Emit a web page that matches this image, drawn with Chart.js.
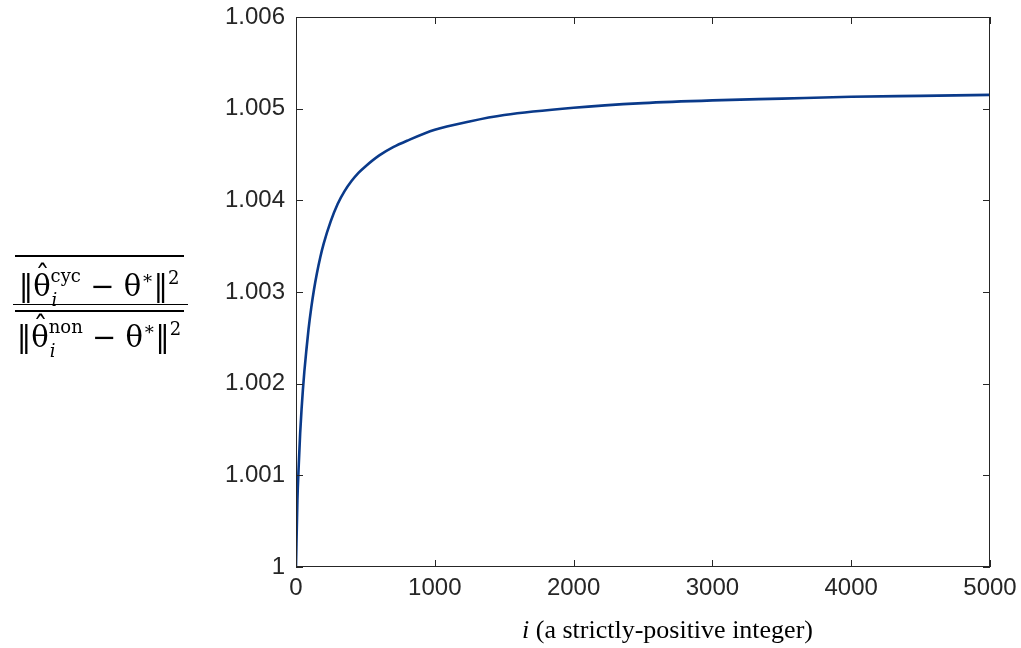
<!DOCTYPE html>
<html>
<head>
<meta charset="utf-8">
<script src="https://cdn.jsdelivr.net/npm/chart.js@4/dist/chart.umd.min.js"></script>
<style>
    body { margin: 0; background: #fff; }
    #wrap { position: relative; width: 1021px; height: 648px; }
    canvas { position: absolute; left: 0; top: 0; }
    .rule { position: absolute; height: 1.5px; background: #000; }
    .fr { position: absolute; left: 13px; width: 172px; text-align: center; white-space: nowrap;
          font-family: "DejaVu Serif", serif; font-size: 29px; line-height: 30px; color: #000; }
    .th { position: relative; }
    .th .h { position: absolute; left: 2px; top: -10px; line-height: normal; }
    .ss { position: relative; font-size: 18px; line-height: normal; }
    .ss .sup { position: relative; top: -14px; }
    .ss .sub { position: absolute; left: 1px; top: 10px; font-style: italic; }
    .sp { position: relative; top: -12px; font-size: 18px; line-height: normal; }
    #xlab { position: absolute; left: 522px; top: 615px; white-space: nowrap;
            font-family: "Liberation Serif", serif; font-size: 26px; line-height: 30px; color: #000; }
    #xlab i { font-style: italic; }
</style>
</head>
<body>
<div id="wrap">
    <canvas id="ratioChart" width="1021" height="648"></canvas>
    <div class="rule" style="left:15px; top:255px; width:169px;"></div>
    <div class="fr" style="top:271px;">‖<span class="th">θ<span class="h">ˆ</span></span><span class="ss"><span class="sup">cyc</span><span class="sub">i</span></span> − θ<span class="sp">∗</span>‖<span class="sp">2</span></div>
    <div class="rule" style="left:13px; top:303.5px; width:175px;"></div>
    <div class="rule" style="left:15px; top:310px; width:169px;"></div>
    <div class="fr" style="top:322px;">‖<span class="th">θ<span class="h">ˆ</span></span><span class="ss"><span class="sup">non</span><span class="sub">i</span></span> − θ<span class="sp">∗</span>‖<span class="sp">2</span></div>
    <div id="xlab"><i>i</i> (a strictly-positive integer)</div>
</div>
<script>
// values
const iValues = [0, 10, 20, 30, 40, 50, 60, 75, 90, 110, 130, 150, 175, 200, 250, 300, 350,
    400, 450, 500, 600, 700, 800, 1000, 1250, 1500, 2000, 2500, 3000, 3500, 4000, 4500, 5000];
const ratioValues = [1.00000, 1.00072, 1.00112, 1.00146, 1.00172, 1.00194, 1.00213, 1.00237,
    1.00259, 1.00283, 1.00303, 1.00320, 1.00338, 1.00353, 1.00377, 1.00396, 1.00410,
    1.00421, 1.00430, 1.00437, 1.00449, 1.00458, 1.00465, 1.00477, 1.00486, 1.00493,
    1.00501, 1.00506, 1.00509, 1.00511, 1.00513, 1.00514, 1.00515];
const xTicks = [0, 1000, 2000, 3000, 4000, 5000];
const yTicks = [1, 1.001, 1.002, 1.003, 1.004, 1.005, 1.006];

const axisColor = '#262626';
const tickFont = { family: '"Liberation Sans", Arial, sans-serif', size: 24 };

// box around the plot with inward ticks on all four sides (matlab style)
const boxPlugin = {
    id: 'box',
    afterDraw(chart) {
        const { ctx, chartArea } = chart;
        const { left, right, top, bottom } = chartArea;
        const xs = chart.scales.x, ys = chart.scales.y;
        const len = 7;
        ctx.save();
        ctx.strokeStyle = axisColor;
        ctx.lineWidth = 1;
        ctx.strokeRect(left + 0.5, top + 0.5, right - left - 1, bottom - top - 1);
        ctx.beginPath();
        xTicks.forEach(v => {
            const x = Math.round(xs.getPixelForValue(v)) + 0.5;
            ctx.moveTo(x, bottom); ctx.lineTo(x, bottom - len);
            ctx.moveTo(x, top); ctx.lineTo(x, top + len);
        });
        yTicks.forEach(v => {
            const y = Math.round(ys.getPixelForValue(v)) + 0.5;
            ctx.moveTo(left, y); ctx.lineTo(left + len, y);
            ctx.moveTo(right, y); ctx.lineTo(right - len, y);
        });
        ctx.stroke();
        ctx.restore();
    }
};

const points = iValues.map((x, k) => ({ x: x, y: ratioValues[k] }));

new Chart(document.getElementById('ratioChart'), {
    type: 'scatter',
    data: {
        datasets: [{
            data: points,
            showLine: true,
            borderColor: '#0a3a8a',
            borderWidth: 2.6,
            pointRadius: 0,
            cubicInterpolationMode: 'monotone',
            fill: false
        }]
    },
    options: {
        responsive: false,
        animation: false,
        devicePixelRatio: 1,
        layout: { padding: { left: 0, top: 17, right: 31, bottom: 0 } },
        plugins: { legend: { display: false }, tooltip: { enabled: false } },
        scales: {
            x: {
                type: 'linear',
                min: 0,
                max: 5000,
                afterFit: s => { s.height = 81; s.paddingLeft = 0; s.paddingRight = 0; },
                afterBuildTicks: s => { s.ticks = xTicks.map(v => ({ value: v })); },
                grid: { display: false, tickLength: 0 },
                border: { display: false },
                ticks: { color: axisColor, font: tickFont, padding: 7, maxRotation: 0,
                         callback: v => String(v) }
            },
            y: {
                type: 'linear',
                min: 1,
                max: 1.006,
                afterFit: s => { s.width = 296; s.paddingTop = 0; s.paddingBottom = 0; },
                afterBuildTicks: s => { s.ticks = yTicks.map(v => ({ value: v })); },
                grid: { display: false, tickLength: 0 },
                border: { display: false },
                ticks: {
                    color: axisColor,
                    font: tickFont,
                    padding: 11,
                    callback: v => (v === 1 ? '1' : v.toFixed(3))
                }
            }
        }
    },
    plugins: [boxPlugin]
});
</script>
</body>
</html>
